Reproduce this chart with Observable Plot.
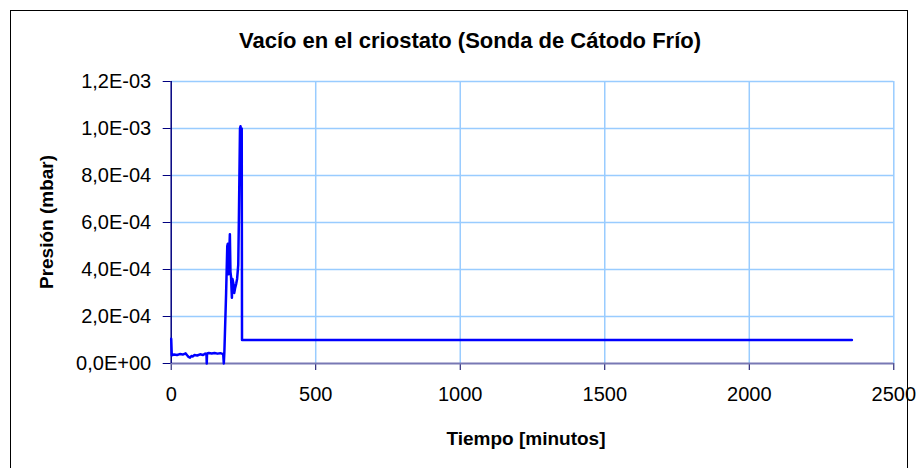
<!DOCTYPE html>
<html><head><meta charset="utf-8">
<script src="https://cdn.jsdelivr.net/npm/d3@7"></script>
<script src="https://cdn.jsdelivr.net/npm/@observablehq/plot@0.6"></script>
<style>
body{margin:0;background:#fff;font-family:"Liberation Sans",Arial,sans-serif;}
#wrap{position:relative;width:919px;height:468px;overflow:hidden;}
#frame{position:absolute;left:10px;top:10px;width:896px;height:470px;border:1px solid #000;box-sizing:content-box;}
.t{position:absolute;font-weight:bold;white-space:nowrap;color:#000;line-height:1;}
#chart{position:absolute;left:0;top:0;}
</style></head><body>
<div id="wrap">
<div id="frame"></div>
<div id="chart"></div>
<div class="t" id="title" style="left:470px;top:41px;transform:translate(-50%,-50%);font-size:22px;">Vacío en el criostato (Sonda de Cátodo Frío)</div>
<div class="t" id="xt" style="left:526px;top:438px;transform:translate(-50%,-50%);font-size:19px;">Tiempo [minutos]</div>
<div class="t" id="yt" style="left:46px;top:222px;transform:translate(-50%,-50%) rotate(-90deg);font-size:19px;">Presión (mbar)</div>
</div>
<script>
const minutes = [0,2,10,20,30,40,50,55,60,65,70,75,80,90,100,110,118,122,123,124,130,140,150,160,170,180,182,184,190,194,196,198,201,203,205,207,210,212,215,218,221,225,228,232,234,236,238,240,242,244,245,250,500,1000,1500,2000,2355];
const pressure = [1.05e-4,3.5e-5,3.8e-5,3.6e-5,4.0e-5,3.8e-5,4.3e-5,3.5e-5,2.8e-5,2.5e-5,3.2e-5,3.0e-5,3.6e-5,3.4e-5,3.9e-5,3.6e-5,4.2e-5,4.0e-5,0,4.3e-5,4.5e-5,4.3e-5,4.5e-5,4.2e-5,4.4e-5,4.0e-5,0,5e-5,3.0e-4,5.0e-4,5.1e-4,3.8e-4,4.8e-4,5.5e-4,3.9e-4,3.7e-4,2.8e-4,3.6e-4,3.4e-4,3.0e-4,3.2e-4,3.4e-4,3.6e-4,4.2e-4,6.0e-4,8.0e-4,1.0e-3,1.01e-3,8.5e-4,1.0e-3,1.0e-4,1.0e-4,1.0e-4,1.0e-4,1.0e-4,1.0e-4,1.0e-4];
const xTicks = [0,500,1000,1500,2000,2500];
const xLabels = ["0","500","1000","1500","2000","2500"];
const yTicks = [0,2e-4,4e-4,6e-4,8e-4,1e-3,1.2e-3];
const yLabels = ["0,0E+00","2,0E-04","4,0E-04","6,0E-04","8,0E-04","1,0E-03","1,2E-03"];

const data = minutes.map((m,i)=>({m, p: pressure[i]}));
const fmtY = v => yLabels[yTicks.findIndex(t=>Math.abs(t-v)<1e-9)];
const fmtX = v => xLabels[xTicks.indexOf(v)];

const chart = Plot.plot({
  width: 919, height: 468,
  marginLeft: 170.7, marginRight: 25.7, marginTop: 81, marginBottom: 105,
  style: {fontFamily: '"Liberation Sans", Arial, sans-serif', fontSize: "20px", color: "#000", background: "transparent"},
  x: {domain: [0,2500], ticks: xTicks},
  y: {domain: [0,1.2e-3], ticks: yTicks},
  marks: [
    Plot.gridX(xTicks.slice(1), {stroke: "#99ccff", strokeOpacity: 1, strokeWidth: 1.5}),
    Plot.gridY(yTicks.slice(1), {stroke: "#99ccff", strokeOpacity: 1, strokeWidth: 1.5}),
    Plot.axisX(xTicks, {tickSize: 7, tickPadding: 16, stroke: "#000060", label: null, tickFormat: fmtX, fontSize: 20}),
    Plot.axisY(yTicks, {tickSize: 8, tickPadding: 12, stroke: "#000080", label: null, tickFormat: fmtY, fontSize: 20}),
    Plot.ruleY([0], {stroke: "#7878b4", strokeWidth: 2}),
    Plot.ruleX([0], {stroke: "#000080", strokeWidth: 1.5}),
    Plot.line(data, {x: "m", y: "p", stroke: "#0000ff", strokeWidth: 2.5})
  ]
});
document.getElementById("chart").appendChild(chart);
</script>
</body></html>
